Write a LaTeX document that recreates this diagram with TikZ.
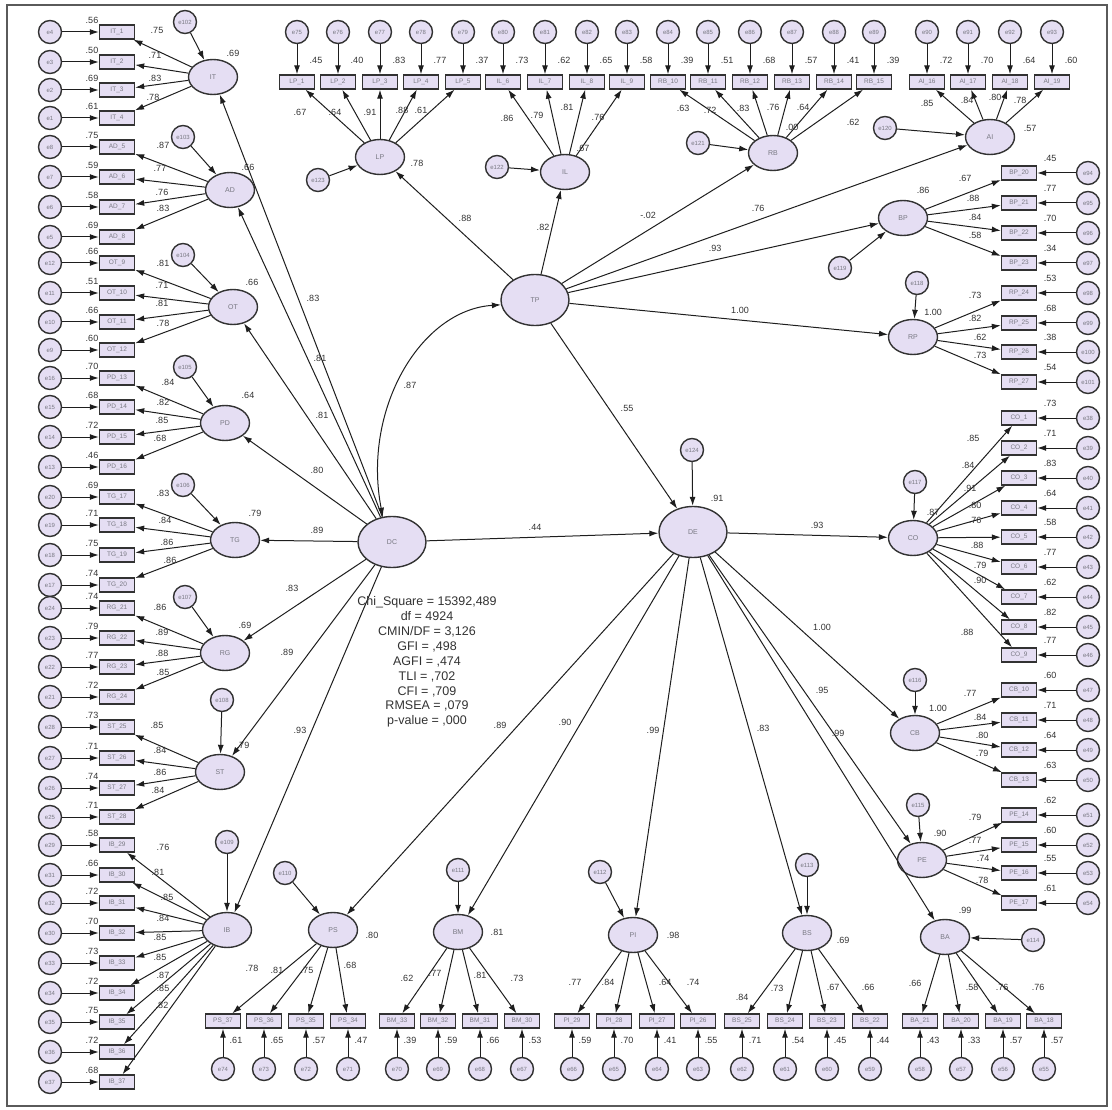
\documentclass[tikz,border=0pt]{standalone}
\usepackage{fontspec}
\setmainfont{Liberation Sans}
\usetikzlibrary{arrows.meta,shapes.geometric}
\definecolor{nodec}{RGB}{229,222,243}
\definecolor{edgec}{RGB}{50,50,50}
\definecolor{linec}{RGB}{30,30,30}
\definecolor{numc}{RGB}{50,50,50}
\definecolor{labc}{RGB}{120,120,130}
\definecolor{framec}{RGB}{90,90,90}
\tikzset{
  err/.style={circle,draw=edgec,line width=1.4pt,fill=nodec,minimum size=23pt,inner sep=0pt,font=\fontsize{6}{6}\selectfont,text=labc},
  obs/.style={rectangle,draw=edgec,line width=1.4pt,fill=nodec,minimum width=35pt,minimum height=14pt,inner sep=0pt,font=\fontsize{6.5}{6.5}\selectfont,text=labc},
  lat/.style={ellipse,draw=edgec,line width=1.4pt,fill=nodec,minimum width=49pt,minimum height=35pt,inner sep=0pt,font=\fontsize{7}{7}\selectfont,text=labc},
  big/.style={lat,minimum width=68pt,minimum height=51pt},
  link/.style={draw=linec,line width=1pt,-{Latex[length=9pt,width=6pt]}},
  cov/.style={link,{Latex[length=9pt,width=6pt]}-{Latex[length=9pt,width=6pt]}},
  num/.style={font=\fontsize{9}{9}\selectfont,text=numc,inner sep=0pt},
  gofbox/.style={align=center,font=\fontsize{12.5}{14.9}\selectfont,text=numc,inner sep=0pt}
}
\begin{document}
\begin{tikzpicture}[x=1pt,y=-1pt]
\useasboundingbox (0,0) rectangle (1112,1110);
\draw[framec,line width=1.6pt] (7,5) rectangle (1107,1106);

% second order factors
\node[big] (DC) at (392,542) {DC};
\node[big] (TP) at (535,300) {TP};
\node[big] (DE) at (693,532) {DE};

% first order factors
\node[lat] (IT) at (213,77) {IT};
\node[lat] (AD) at (230,190) {AD};
\node[lat] (OT) at (233,307) {OT};
\node[lat] (PD) at (225,423) {PD};
\node[lat] (TG) at (235,540) {TG};
\node[lat] (RG) at (225,653) {RG};
\node[lat] (ST) at (220,772) {ST};
\node[lat] (IB) at (227,930) {IB};
\node[lat] (LP) at (380,157) {LP};
\node[lat] (IL) at (565,172) {IL};
\node[lat] (RB) at (773,153) {RB};
\node[lat] (AI) at (990,137) {AI};
\node[lat] (BP) at (903,218) {BP};
\node[lat] (RP) at (913,337) {RP};
\node[lat] (CO) at (913,538) {CO};
\node[lat] (CB) at (915,733) {CB};
\node[lat] (PE) at (922,860) {PE};
\node[lat] (BA) at (945,937) {BA};
\node[lat] (BS) at (807,933) {BS};
\node[lat] (PI) at (633,935) {PI};
\node[lat] (BM) at (458,932) {BM};
\node[lat] (PS) at (333,930) {PS};

% indicators left
\foreach \y/\lab/\e/\rs [count=\i] in {32/IT\_1/e4/.56, 62/IT\_2/e3/.50, 90/IT\_3/e2/.69, 118/IT\_4/e1/.61,
  147/AD\_5/e8/.75, 177/AD\_6/e7/.59, 207/AD\_7/e6/.58, 237/AD\_8/e5/.69,
  263/OT\_9/e12/.66, 293/OT\_10/e11/.51, 322/OT\_11/e10/.66, 350/OT\_12/e9/.60,
  378/PD\_13/e16/.70, 407/PD\_14/e15/.68, 437/PD\_15/e14/.72, 467/PD\_16/e13/.46,
  497/TG\_17/e20/.69, 525/TG\_18/e19/.71, 555/TG\_19/e18/.75, 585/TG\_20/e17/.74,
  608/RG\_21/e24/.74, 638/RG\_22/e23/.79, 667/RG\_23/e22/.77, 697/RG\_24/e21/.72,
  727/ST\_25/e28/.73, 758/ST\_26/e27/.71, 788/ST\_27/e26/.74, 817/ST\_28/e25/.71,
  845/IB\_29/e29/.58, 875/IB\_30/e31/.66, 903/IB\_31/e32/.72, 933/IB\_32/e30/.70, 963/IB\_33/e33/.73,
  993/IB\_34/e34/.72, 1022/IB\_35/e35/.75, 1052/IB\_36/e36/.72, 1082/IB\_37/e37/.68}
{
  \node[obs] (x\i) at (117,\y) {\lab};
  \node[err] (ex\i) at (50,\y) {\e};
  \draw[link] (ex\i) -- (x\i);
  \node[num] (rx\i) at (92,\y-12) {\rs};
}
\foreach \f/\i/\ld/\lx/\ly in {IT/1/.75/157/30, IT/2/.71/155/55, IT/3/.83/155/78, IT/4/.78/153/97,
  AD/5/.87/163/145, AD/6/.77/160/168, AD/7/.76/162/192, AD/8/.83/163/208,
  OT/9/.81/163/263, OT/10/.71/162/285, OT/11/.81/162/303, OT/12/.78/163/323,
  PD/13/.84/168/382, PD/14/.82/163/402, PD/15/.85/162/420, PD/16/.68/160/438,
  TG/17/.83/163/493, TG/18/.84/165/520, TG/19/.86/167/542, TG/20/.86/170/560,
  RG/21/.86/160/607, RG/22/.89/162/632, RG/23/.88/162/653, RG/24/.85/163/672,
  ST/25/.85/157/725, ST/26/.84/160/750, ST/27/.86/160/772, ST/28/.84/158/790,
  IB/29/.76/163/847, IB/30/.81/158/872, IB/31/.85/167/897, IB/32/.84/163/918, IB/33/.85/160/937,
  IB/34/.85/160/957, IB/35/.87/163/975, IB/36/.85/163/988, IB/37/.82/162/1005}
{
  \draw[link] (\f) -- (x\i);
  \node[num] (lx\i) at (\lx,\ly) {\ld};
}

% indicators top
\foreach \x/\lab/\e/\rs [count=\i] in {297/LP\_1/e75/.45, 338/LP\_2/e76/.40, 380/LP\_3/e77/.83, 421/LP\_4/e78/.77, 463/LP\_5/e79/.37,
  503/IL\_6/e80/.73, 545/IL\_7/e81/.62, 587/IL\_8/e82/.65, 627/IL\_9/e83/.58,
  668/RB\_10/e84/.39, 708/RB\_11/e85/.51, 750/RB\_12/e86/.68, 792/RB\_13/e87/.57, 834/RB\_14/e88/.41, 874/RB\_15/e89/.39,
  927/AI\_16/e90/.72, 968/AI\_17/e91/.70, 1010/AI\_18/e92/.64, 1052/AI\_19/e93/.60}
{
  \node[obs] (t\i) at (\x,82) {\lab};
  \node[err] (et\i) at (\x,32) {\e};
  \draw[link] (et\i) -- (t\i);
  \node[num] (rt\i) at (\x+19,60) {\rs};
}
\foreach \f/\i/\ld/\lx/\ly in {LP/1/.67/300/112, LP/2/.64/335/112, LP/3/.91/370/112, LP/4/.88/402/110, LP/5/.61/421/110,
  IL/6/.86/507/118, IL/7/.79/537/115, IL/8/.81/567/107, IL/9/.76/598/117,
  RB/10/.63/683/108, RB/11/.72/710/110, RB/12/.83/743/108, RB/13/.76/773/107, RB/14/.64/803/107, RB/15/.62/853/122,
  AI/16/.85/927/103, AI/17/.84/967/100, AI/18/.80/995/97, AI/19/.78/1020/100}
{
  \draw[link] (\f) -- (t\i);
  \node[num] (lt\i) at (\lx,\ly) {\ld};
}

% indicators right
\foreach \y/\lab/\e/\rs [count=\i] in {173/BP\_20/e94/.45, 203/BP\_21/e95/.77, 233/BP\_22/e96/.70, 263/BP\_23/e97/.34,
  293/RP\_24/e98/.53, 323/RP\_25/e99/.68, 352/RP\_26/e100/.38, 382/RP\_27/e101/.54,
  418/CO\_1/e38/.73, 448/CO\_2/e39/.71, 478/CO\_3/e40/.83, 508/CO\_4/e41/.64, 537/CO\_5/e42/.58,
  567/CO\_6/e43/.77, 597/CO\_7/e44/.62, 627/CO\_8/e45/.82, 655/CO\_9/e46/.77,
  690/CB\_10/e47/.60, 720/CB\_11/e48/.71, 750/CB\_12/e49/.64, 780/CB\_13/e50/.63,
  815/PE\_14/e51/.62, 845/PE\_15/e52/.60, 873/PE\_16/e53/.55, 903/PE\_17/e54/.61}
{
  \node[obs] (y\i) at (1019,\y) {\lab};
  \node[err] (ey\i) at (1088,\y) {\e};
  \draw[link] (ey\i) -- (y\i);
  \node[num] (ry\i) at (1050,\y-15) {\rs};
}
\foreach \f/\i/\ld/\lx/\ly in {BP/1/.67/965/178, BP/2/.88/973/198, BP/3/.84/975/217, BP/4/.58/975/235,
  RP/5/.73/975/295, RP/6/.82/975/318, RP/7/.62/980/337, RP/8/.73/980/355,
  CO/9/.85/973/438, CO/10/.84/968/465, CO/11/.91/970/488, CO/12/.80/975/505, CO/13/.76/975/520,
  CO/14/.88/977/545, CO/15/.79/980/565, CO/16/.90/980/580, CO/17/.88/967/632,
  CB/18/.77/970/693, CB/19/.84/980/717, CB/20/.80/982/735, CB/21/.79/982/753,
  PE/22/.79/975/817, PE/23/.77/975/840, PE/24/.74/983/858, PE/25/.78/982/880}
{
  \draw[link] (\f) -- (y\i);
  \node[num] (ly\i) at (\lx,\ly) {\ld};
}

% indicators bottom
\foreach \x/\lab/\e/\rs [count=\i] in {223/PS\_37/e74/.61, 264/PS\_36/e73/.65, 306/PS\_35/e72/.57, 348/PS\_34/e71/.47,
  397/BM\_33/e70/.39, 438/BM\_32/e69/.59, 480/BM\_31/e68/.66, 522/BM\_30/e67/.53,
  572/PI\_29/e66/.59, 614/PI\_28/e65/.70, 657/PI\_27/e64/.41, 698/PI\_26/e63/.55,
  742/BS\_25/e62/.71, 785/BS\_24/e61/.54, 827/BS\_23/e60/.45, 870/BS\_22/e59/.44,
  920/BA\_21/e58/.43, 961/BA\_20/e57/.33, 1003/BA\_19/e56/.57, 1044/BA\_18/e55/.57}
{
  \node[obs] (z\i) at (\x,1021) {\lab};
  \node[err] (ez\i) at (\x,1069) {\e};
  \draw[link] (ez\i) -- (z\i);
  \node[num] (rz\i) at (\x+13,1040) {\rs};
}
\foreach \f/\i/\ld/\lx/\ly in {PS/1/.78/252/968, PS/2/.81/277/970, PS/3/.75/307/970, PS/4/.68/350/965,
  BM/5/.62/407/978, BM/6/.77/435/973, BM/7/.81/480/975, BM/8/.73/517/978,
  PI/9/.77/575/982, PI/10/.84/608/982, PI/11/.64/665/982, PI/12/.74/693/982,
  BS/13/.84/742/997, BS/14/.73/777/988, BS/15/.67/833/987, BS/16/.66/868/987,
  BA/17/.66/915/983, BA/18/.58/972/987, BA/19/.76/1002/987, BA/20/.76/1038/987}
{
  \draw[link] (\f) -- (z\i);
  \node[num] (lz\i) at (\lx,\ly) {\ld};
}

% disturbances
\foreach \f/\e/\x/\y in {IT/e102/185/22, AD/e103/183/137, OT/e104/183/255, PD/e105/185/367,
  TG/e106/183/485, RG/e107/185/597, ST/e108/222/700, IB/e109/227/842,
  PS/e110/285/873, BM/e111/458/870, PI/e112/600/872, BS/e113/807/865,
  BA/e114/1033/940, PE/e115/918/805, CB/e116/915/680, CO/e117/915/482,
  RP/e118/917/283, BP/e119/840/268, AI/e120/885/128, RB/e121/698/143,
  IL/e122/497/167, LP/e123/318/180, DE/e124/692/450}
{
  \node[err] (\e) at (\x,\y) {\e};
  \draw[link] (\e) -- (\f);
}

% squared multiple correlations
\foreach \f/\rs/\x/\y in {IT/.69/233/53, AD/.66/248/167, OT/.66/252/282, PD/.64/248/395,
  TG/.79/255/513, RG/.69/245/625, ST/.79/243/745, LP/.78/417/163, IL/.67/583/148,
  RB/.00/792/127, AI/.57/1030/128, BP/.86/923/190, RP/1.00/933/312, CO/.87/933/512,
  CB/1.00/938/708, PE/.90/940/833, BA/.99/965/910, BS/.69/843/940, PI/.98/673/935,
  BM/.81/497/932, PS/.80/372/935, DE/.91/717/498}
  \node[num] (r\f) at (\x,\y) {\rs};

% structural paths
\foreach \a/\b/\ld/\x/\y in {DC/IT/.83/313/298, DC/AD/.81/320/358, DC/OT/.81/322/415, DC/PD/.80/317/470,
  DC/TG/.89/317/530, DC/RG/.83/292/588, DC/ST/.89/287/652, DC/IB/.93/300/730,
  TP/LP/.88/465/218, TP/IL/.82/543/227, TP/RB/-.02/648/215, TP/AI/.76/758/208,
  TP/BP/.93/715/248, TP/RP/1.00/740/310,
  DE/CO/.93/817/525, DE/CB/1.00/822/627, DE/PE/.95/822/690, DE/BA/.99/838/733,
  DE/BS/.83/763/728, DE/PI/.99/653/730, DE/BM/.90/565/722, DE/PS/.89/500/725,
  DC/DE/.44/535/527, TP/DE/.55/627/408}
{
  \draw[link] (\a) -- (\b);
  \node[num] (p\a\b) at (\x,\y) {\ld};
}
\draw[cov] (DC.110) .. controls (362,410) and (420,310) .. (TP.188);
\node[num] (pcov) at (410,385) {.87};

% fit indices
\node[gofbox] (gof) at (427,662) {Chi\_Square = 15392,489\\df = 4924\\CMIN/DF = 3,126\\GFI = ,498\\AGFI = ,474\\TLI = ,702\\CFI = ,709\\RMSEA = ,079\\p-value = ,000};
\end{tikzpicture}
\end{document}
